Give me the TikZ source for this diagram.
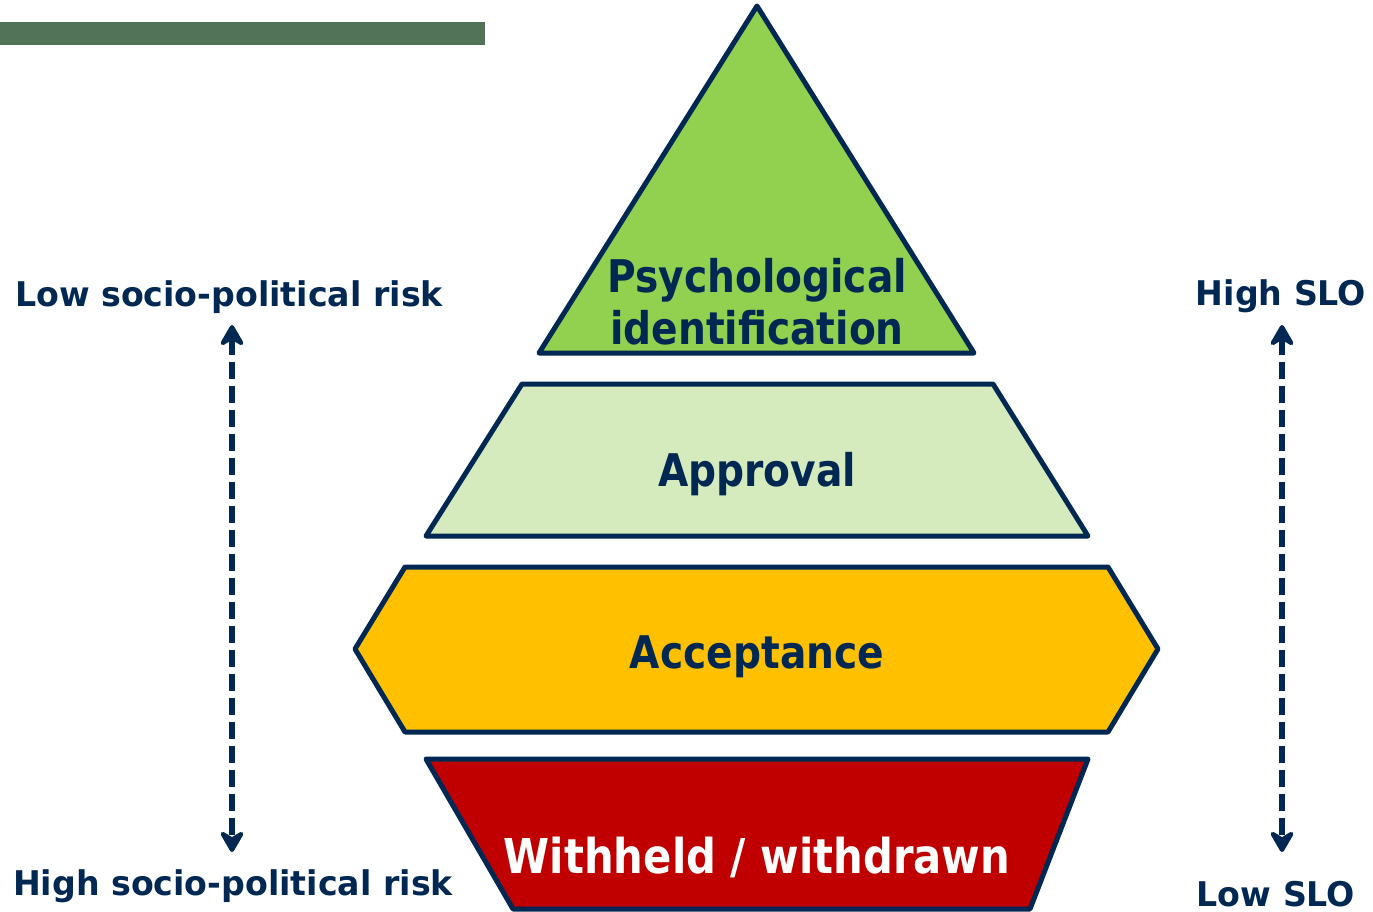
\documentclass[tikz,border=0pt]{standalone}
\usepackage{fontspec}
\setmainfont{DejaVu Sans}
\newfontfamily\layerfont[FakeStretch=0.87]{DejaVu Sans Bold}
\newfontfamily\sidefont[FakeStretch=0.977]{DejaVu Sans Bold}
\usetikzlibrary{arrows.meta}
\definecolor{navy}{RGB}{0,40,82}
\definecolor{topgreen}{RGB}{146,208,80}
\definecolor{palegreen}{RGB}{213,235,189}
\definecolor{amber}{RGB}{255,192,0}
\definecolor{deepred}{RGB}{192,0,0}
\definecolor{barGreen}{RGB}{82,115,88}
\tikzset{
  layer/.style={draw=navy, line width=5pt, line join=round},
  layertext/.style={font=\layerfont\fontsize{45}{52}\selectfont, text=navy, anchor=base, inner sep=0pt},
  sidetext/.style={font=\sidefont\fontsize{34}{40}\selectfont, text=navy, anchor=base, inner sep=0pt},
  headtip/.tip={Stealth[length=26pt,width=30pt,inset=9pt,round]},
  scalearrow/.style={draw=navy, line width=6pt, dash pattern=on 17pt off 7pt, headtip-headtip}
}
\begin{document}
\begin{tikzpicture}[x=1pt,y=-1pt]
\useasboundingbox (0,0) rectangle (1373,912);
% header bar
\fill[barGreen] (0,22) rectangle (485,45);
% pyramid layers
\draw[layer, fill=topgreen] (757,6) -- (974,353) -- (539,353) -- cycle;
\draw[layer, fill=palegreen] (522,384) -- (993,384) -- (1088,536) -- (426,536) -- cycle;
\draw[layer, fill=amber] (355,649) -- (405,567) -- (1108,567) -- (1158,649) -- (1108,732) -- (405,732) -- cycle;
\draw[layer, fill=deepred] (426,759) -- (1088,759) -- (1030,909) -- (513,909) -- cycle;
% layer labels
\node[layertext] (psy) at (757,292) {Psychological};
\node[layertext] (ident) at (757,344) {identification};
\node[layertext] (appr) at (757,486) {Approval};
\node[layertext] (acc) at (757,668) {Acceptance};
\node[layertext, text=white, font=\layerfont\fontsize{48}{52}\selectfont] (with) at (757,873) {Withheld / withdrawn};
% side labels
\node[sidetext] (lowrisk) at (229,306) {Low socio-political risk};
\node[sidetext] (highrisk) at (233,895) {High socio-political risk};
\node[sidetext] (highslo) at (1281,305) {High SLO};
\node[sidetext] (lowslo) at (1276,906) {Low SLO};
% scale arrows
\coordinate (lt) at (232,325);
\coordinate (lb) at (232,852);
\coordinate (rt) at (1282,325);
\coordinate (rb) at (1282,852);
\draw[scalearrow] (lt) -- (lb);
\draw[scalearrow] (rt) -- (rb);
\end{tikzpicture}
\end{document}
